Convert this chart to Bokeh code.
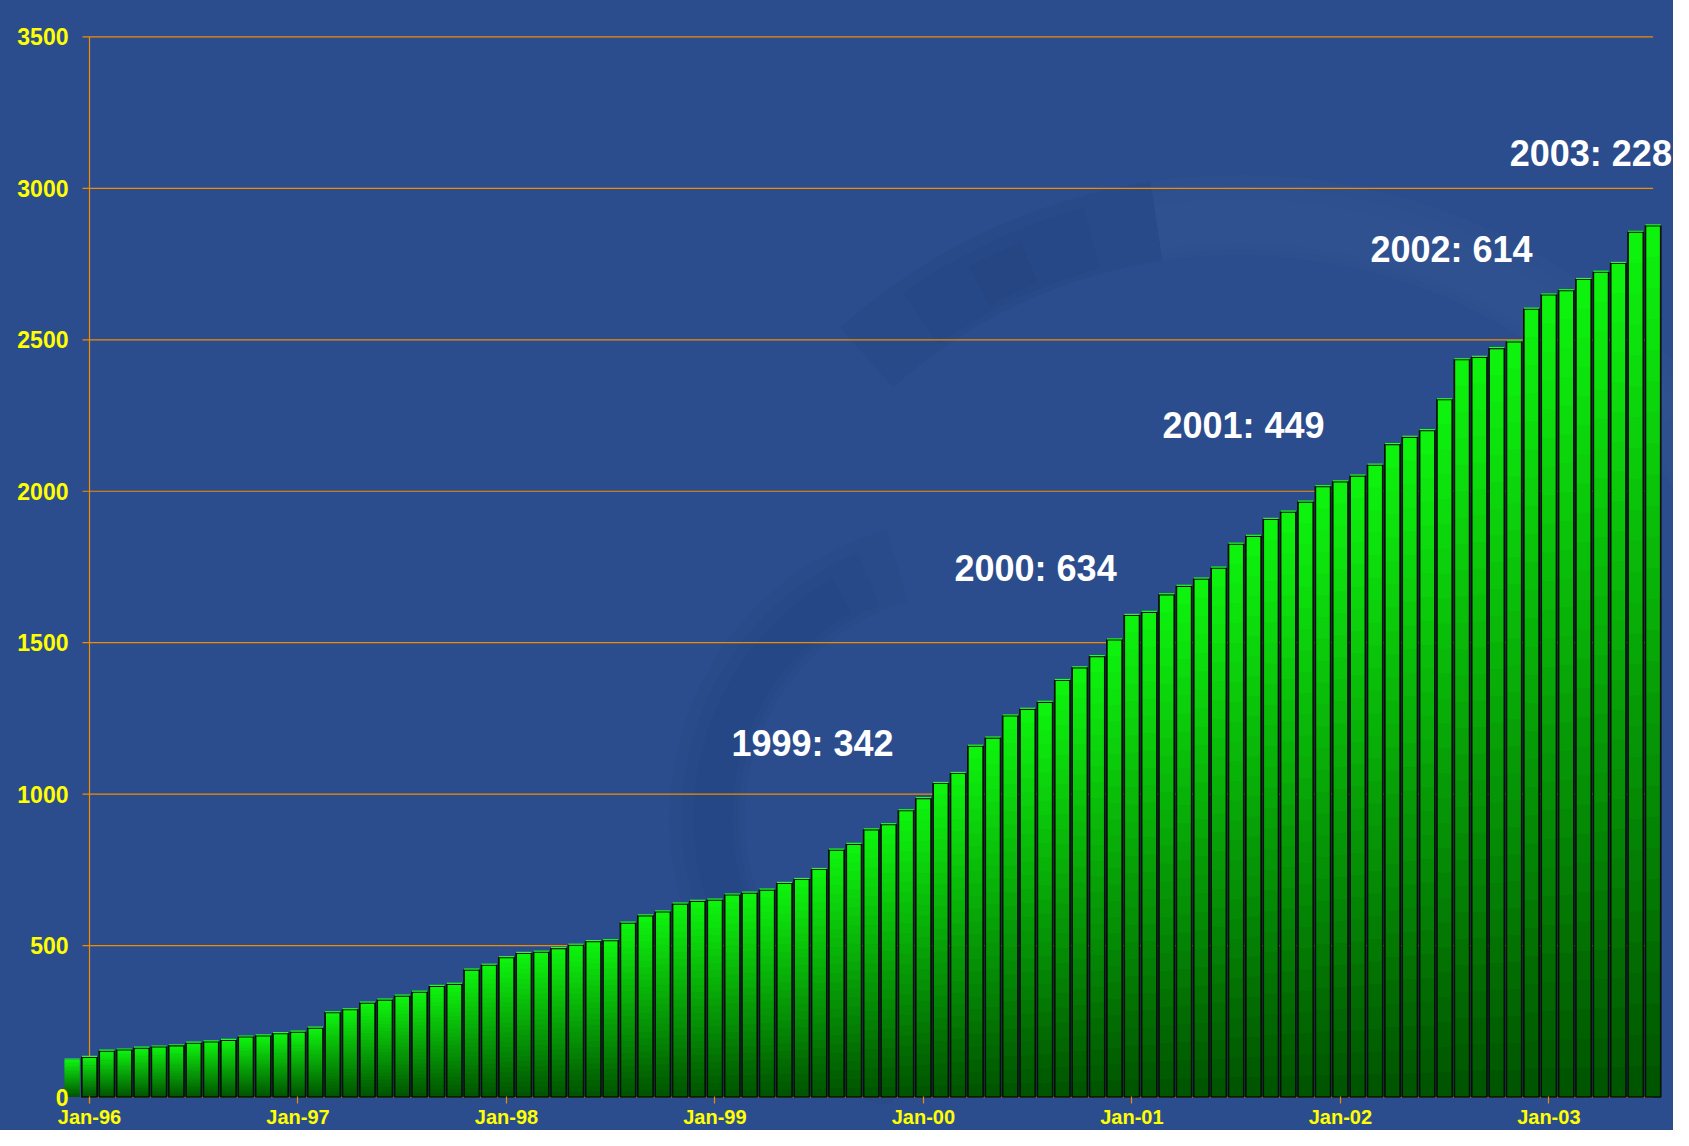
from bokeh.plotting import figure
from bokeh.models import Range1d, FixedTicker
from bokeh.core.properties import value
from bokeh.embed import file_html
from bokeh.resources import INLINE

# ---- data (monthly cumulative totals, Dec-95 .. Jul-03) ----
vals_1995 = [123]
vals_1996 = [132, 152, 156, 162, 166, 170, 179, 183, 188, 199, 203, 210]
vals_1997 = [215, 228, 279, 289, 311, 321, 334, 347, 366, 373, 420, 436]
vals_1998 = [461, 475, 479, 491, 502, 514, 517, 575, 599, 612, 638, 647]
vals_1999 = [651, 668, 674, 684, 706, 719, 752, 816, 835, 883, 900, 946]
vals_2000 = [986, 1036, 1069, 1159, 1186, 1259, 1281, 1304, 1376, 1418, 1455, 1510]
vals_2001 = [1591, 1601, 1659, 1687, 1711, 1747, 1826, 1852, 1908, 1932, 1965, 2016]
vals_2002 = [2032, 2051, 2087, 2155, 2179, 2201, 2303, 2435, 2443, 2472, 2494, 2602]
vals_2003 = [2649, 2663, 2700, 2724, 2753, 2856, 2877]

values = vals_1995 + vals_1996 + vals_1997 + vals_1998 + vals_1999 + vals_2000 + vals_2001 + vals_2002 + vals_2003
month_idx = list(range(len(values)))          # 0 = Dec-95, 1 = Jan-96, ...

tick_labels = ["Jan-96", "Jan-97", "Jan-98", "Jan-99", "Jan-00", "Jan-01", "Jan-02", "Jan-03"]
tick_months = [1, 13, 25, 37, 49, 61, 73, 85]
y_ticks = [0, 500, 1000, 1500, 2000, 2500, 3000, 3500]

ann_text = ["1999: 342", "2000: 634", "2001: 449", "2002: 614", "2003: 228"]
ann_x = [37.95, 50.79, 62.76, 74.73, 82.75]
ann_y = [1168, 1745, 2218, 2797, 3116]

# ---- style ----
BG = "#2c4d8d"
GRID = "#f08c00"
YEL = "#ffff00"
TOP = (14, 246, 14)
BOT = (0, 82, 0)

px_per_month = 17.373

p = figure(width=1673, height=1130, output_backend="svg", toolbar_location=None,
           x_range=Range1d(-0.6693, 92.175), y_range=Range1d(-21.4, 3560.9),
           min_border_left=60, min_border_right=0, min_border_top=18, min_border_bottom=25)
p.background_fill_color = BG
p.border_fill_color = BG
p.styles = {"background-color": BG}
p.outline_line_color = None
p.xgrid.visible = False
p.ygrid.visible = False

# faint, soft background swirl (layered translucent rings)
sw = dict(inner_radius_units="screen", outer_radius_units="screen", line_color=None)
for d in (0, 12, 24):
    p.annular_wedge(x=[51.65], y=[921], inner_radius=225 + d * 0.5, outer_radius=300 - d,
                    start_angle=1.85 + d * 0.01, end_angle=4.45 - d * 0.01,
                    fill_color="#1a3676", fill_alpha=0.10, **sw)
    p.annular_wedge(x=[67.2], y=[1063], inner_radius=520 + d * 0.5, outer_radius=600 - d,
                    start_angle=1.72 + d * 0.01, end_angle=2.30 - d * 0.01,
                    fill_color="#1a3676", fill_alpha=0.12, **sw)
    p.annular_wedge(x=[67.2], y=[1063], inner_radius=520 + d * 0.5, outer_radius=600 - d,
                    start_angle=0.45 + d * 0.01, end_angle=1.72,
                    fill_color="#5676b2", fill_alpha=0.05, **sw)

# grid lines (start a tick-length left of the axis, end at the last month)
x_start = 1 - 7 / px_per_month
x_end = month_idx[-1]
p.segment(x0=[x_start] * len(y_ticks), y0=y_ticks, x1=[x_end] * len(y_ticks), y1=y_ticks,
          line_color=GRID, line_width=1.2)
# vertical axis line at Jan-96
p.segment(x0=[1], y0=[p.y_range.start], x1=[1], y1=[y_ticks[-1]], line_color=GRID, line_width=1.2)

# gradient bars: stacked slices
K = 28
W = 0.88
xs, bots, tops, cols = [], [], [], []
for x, v in zip(month_idx, values):
    for k in range(K):
        t = (k + 0.5) / K
        c = tuple(int(round(BOT[j] + (TOP[j] - BOT[j]) * t)) for j in range(3))
        xs.append(x)
        bots.append(v * k / K)
        tops.append(min(v, v * (k + 1.3) / K))
        cols.append("#%02x%02x%02x" % c)
p.vbar(x=xs, bottom=bots, top=tops, width=W, fill_color=cols, line_color=None)
# bar outlines
p.vbar(x=month_idx[1:], bottom=0, top=values[1:], width=W, fill_color=None,
       line_color="#041204", line_width=1.7)
# bright top edges
p.segment(x0=[x - W / 2 for x in month_idx], y0=[v + 2.5 for v in values],
          x1=[x + W / 2 for x in month_idx], y1=[v + 2.5 for v in values],
          line_color="#22ff22", line_width=1.2)

# annotations
p.text(x=ann_x, y=ann_y, text=ann_text, text_color="white", text_font=value("Liberation Sans"),
       text_font_style="bold", text_font_size="36px", text_align="left", text_baseline="middle")

# x axis: ticks pointing up to the baseline
xa = p.xaxis[0]
xa.ticker = FixedTicker(ticks=tick_months)
xa.major_label_overrides = {m: l for m, l in zip(tick_months, tick_labels)}
xa.axis_line_color = None
xa.minor_tick_line_color = None
xa.major_tick_in = 7
xa.major_tick_out = 0
xa.major_tick_line_color = GRID
xa.major_tick_line_width = 1.2
xa.major_label_text_color = YEL
xa.major_label_text_font = "Liberation Sans"
xa.major_label_text_font_style = "bold"
xa.major_label_text_font_size = "20px"
xa.major_label_standoff = 2

# y axis: labels only
ya = p.yaxis[0]
ya.ticker = FixedTicker(ticks=y_ticks)
ya.axis_line_color = None
ya.major_tick_line_color = None
ya.minor_tick_line_color = None
ya.major_tick_in = 0
ya.major_tick_out = 0
ya.major_label_text_color = YEL
ya.major_label_text_font = "Liberation Sans"
ya.major_label_text_font_style = "bold"
ya.major_label_text_font_size = "23px"
ya.major_label_standoff = -8

open("out.html", "w").write(file_html(p, INLINE))
